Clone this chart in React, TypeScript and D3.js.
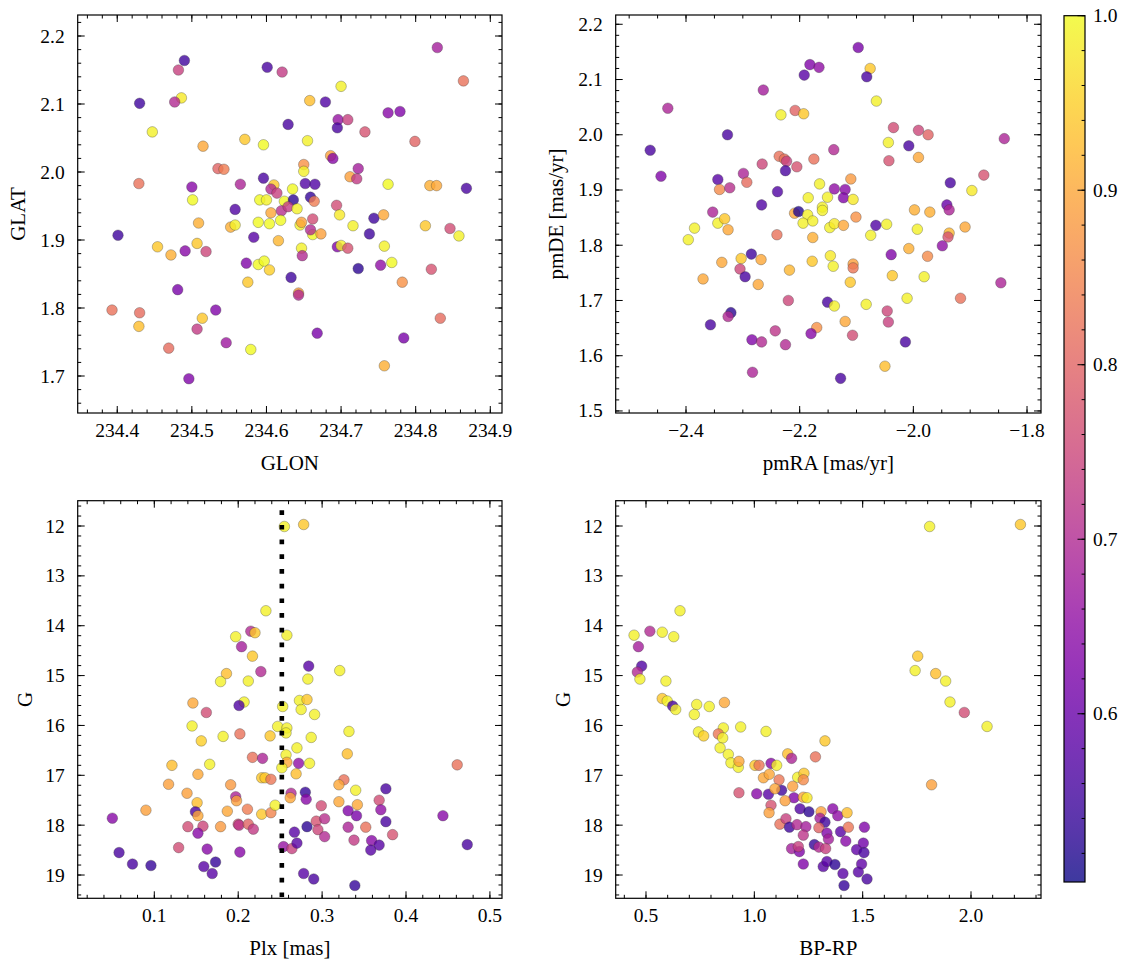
import React from 'react';
import * as d3 from 'd3';

const W = 1133;
const H = 965;
const FONT = 'Liberation Serif, "DejaVu Serif", serif';

// ---------- Panel 1: GLON / GLAT ----------
const glon = [234.829,234.864,234.490,234.482,234.601,234.621,234.700,234.430,234.486,234.477,234.658,234.679,234.763,234.779,234.696,234.709,234.695,234.629,234.732,234.799,234.447,234.515,234.571,234.596,234.655,234.686,234.689,234.535,234.543,234.650,234.650,234.723,234.712,234.721,234.429,234.500,234.565,234.596,234.610,234.606,234.614,234.635,234.652,234.665,234.763,234.819,234.828,234.868,234.501,234.591,234.600,234.624,234.636,234.659,234.664,234.694,234.558,234.606,234.620,234.629,234.641,234.662,234.698,234.744,234.757,234.509,234.552,234.558,234.589,234.604,234.619,234.645,234.647,234.662,234.659,234.673,234.716,234.813,234.846,234.858,234.401,234.583,234.738,234.454,234.472,234.491,234.507,234.519,234.616,234.647,234.648,234.695,234.700,234.709,234.758,234.573,234.589,234.597,234.604,234.753,234.768,234.723,234.821,234.633,234.575,234.782,234.481,234.643,234.643,234.393,234.430,234.532,234.514,234.429,234.507,234.833,234.469,234.546,234.579,234.668,234.784,234.758,234.496];
const glat = [2.183,2.134,2.164,2.150,2.154,2.147,2.126,2.101,2.109,2.103,2.105,2.103,2.087,2.089,2.077,2.077,2.065,2.070,2.059,2.045,2.059,2.038,2.048,2.040,2.046,2.024,2.020,2.005,2.004,2.011,2.001,2.005,1.993,1.990,1.983,1.978,1.982,1.991,1.981,1.975,1.969,1.975,1.983,1.982,1.982,1.980,1.980,1.976,1.959,1.959,1.959,1.957,1.959,1.963,1.957,1.951,1.945,1.940,1.943,1.949,1.946,1.931,1.937,1.932,1.937,1.925,1.919,1.922,1.926,1.924,1.929,1.922,1.926,1.908,1.915,1.909,1.921,1.921,1.917,1.906,1.907,1.904,1.909,1.890,1.878,1.884,1.895,1.883,1.899,1.888,1.877,1.890,1.892,1.888,1.891,1.866,1.864,1.869,1.856,1.863,1.867,1.858,1.857,1.845,1.838,1.838,1.827,1.822,1.819,1.797,1.793,1.797,1.785,1.773,1.769,1.785,1.741,1.749,1.739,1.763,1.756,1.715,1.696];
const glProb = [.68,.82,.55,.74,.56,.73,.99,.55,.98,.70,.93,.57,.64,.63,.66,.74,.56,.56,.77,.80,.99,.90,.94,1.0,.99,.89,.64,.80,.84,.87,.99,.68,.89,.73,.82,.64,.69,.56,.94,.70,.74,1.0,.57,.57,1.0,.91,.90,.56,1.0,1.0,.99,1.0,.53,.54,.84,.76,.57,.90,.71,.73,.99,.76,.98,.55,.90,.91,.91,.99,1.0,1.0,1.0,.99,.89,1.0,.70,.89,.99,.94,.76,.99,.55,.58,.55,.94,.91,.64,.94,.75,.92,.99,.70,.63,.99,.77,.99,.63,1.0,1.0,.95,.65,1.0,.53,.77,.55,.94,.87,.62,.89,.70,.82,.81,.63,.94,.93,.73,.81,.81,.67,1.0,.62,.62,.91,.63];

// ---------- Panel 2: pmRA / pmDE ----------
const pmra = [-2.097,-2.076,-2.082,-2.182,-2.166,-2.192,-2.065,-2.264,-2.432,-2.233,-2.208,-2.193,-2.327,-2.463,-2.035,-1.991,-1.974,-2.044,-2.008,-1.840,-1.991,-2.043,-2.140,-2.236,-2.227,-2.223,-2.225,-2.205,-2.175,-2.266,-2.444,-2.299,-2.293,-2.344,-2.341,-2.323,-2.239,-2.165,-2.110,-2.139,-2.120,-2.123,-2.106,-2.185,-2.151,-1.935,-1.876,-1.897,-2.267,-2.353,-2.160,-1.998,-1.971,-1.941,-1.937,-2.209,-2.202,-2.186,-2.160,-2.344,-2.332,-2.326,-2.385,-2.396,-2.194,-2.177,-2.147,-2.139,-2.123,-2.101,-2.066,-2.047,-2.075,-2.240,-2.177,-1.993,-1.909,-1.937,-1.939,-1.949,-2.008,-1.975,-2.039,-2.285,-2.303,-2.268,-2.337,-2.305,-2.296,-2.370,-2.273,-2.218,-2.178,-2.146,-2.141,-2.106,-2.106,-2.111,-2.037,-1.981,-1.846,-2.011,-1.917,-2.220,-2.151,-2.139,-2.083,-2.046,-2.044,-2.120,-2.321,-2.326,-2.357,-2.170,-2.180,-2.243,-2.284,-2.267,-2.225,-2.107,-2.014,-2.050,-2.283,-2.128];
const pmde = [2.158,2.120,2.105,2.127,2.122,2.108,2.061,2.081,2.048,2.036,2.044,2.038,2.000,1.972,2.013,2.008,2.000,1.986,1.980,1.993,1.959,1.953,1.973,1.961,1.956,1.952,1.935,1.942,1.956,1.947,1.925,1.930,1.914,1.919,1.901,1.904,1.897,1.911,1.920,1.902,1.901,1.886,1.883,1.886,1.887,1.913,1.927,1.899,1.873,1.860,1.869,1.864,1.860,1.873,1.864,1.858,1.861,1.855,1.863,1.840,1.848,1.828,1.831,1.810,1.840,1.844,1.832,1.839,1.836,1.851,1.836,1.838,1.818,1.819,1.814,1.829,1.833,1.822,1.815,1.799,1.794,1.780,1.783,1.784,1.776,1.774,1.769,1.757,1.743,1.739,1.729,1.755,1.771,1.781,1.762,1.766,1.759,1.733,1.745,1.743,1.732,1.704,1.704,1.700,1.697,1.690,1.693,1.681,1.661,1.662,1.678,1.671,1.656,1.651,1.640,1.645,1.629,1.625,1.620,1.637,1.625,1.581,1.570,1.559];
const pmProb = [.62,.94,.56,.63,.65,.58,.99,.68,.69,.99,.80,.94,.56,.56,.76,.75,.80,.99,.56,.69,.90,.77,.70,.82,.82,.74,.56,.77,.82,.75,.63,.69,.81,.58,.86,.71,.57,.99,.88,.65,.64,.63,.98,.99,.99,.56,.77,.98,.57,.69,.99,.91,.91,.60,.69,.90,.52,.99,.99,.99,.94,.90,.99,.99,.99,.99,.99,.98,.90,.87,.57,.99,.99,.82,.91,.99,.90,.92,.77,.65,.91,.86,.63,.55,.94,.90,.90,.75,.56,.90,.90,.92,.94,.98,.99,.89,.83,.94,.94,.99,.69,.99,.82,.75,.56,.99,.99,.75,.74,.90,.53,.70,.56,.87,.64,.72,.63,.70,.70,.76,.56,.93,.69,.56];

// ---------- Panel 3: Plx / G ----------
const plx = [.255,.278,.233,.197,.215,.220,.258,.204,.217,.284,.321,.227,.186,.179,.212,.283,.146,.207,.201,.162,.253,.273,.282,.275,.291,.145,.247,.258,.257,.156,.182,.202,.238,.287,.332,.270,.257,.330,.217,.229,.121,.166,.258,.252,.272,.285,.461,.152,.269,.228,.232,.239,.117,.191,.326,.320,.340,.376,.139,.197,.198,.263,.262,.280,.281,.368,.151,.090,.149,.152,.187,.211,.228,.239,.244,.299,.320,.342,.331,.341,.370,.376,.444,.050,.140,.158,.152,.179,.200,.201,.212,.218,.293,.303,.295,.282,.267,.303,.331,.352,.338,.384,.359,.368,.358,.473,.129,.163,.202,.254,.264,.270,.058,.074,.096,.159,.173,.169,.278,.290,.339];
const gmag3 = [12.01,11.97,13.70,14.22,14.11,14.14,14.19,14.42,14.61,14.81,14.90,14.92,14.96,15.12,15.11,15.07,15.55,15.53,15.60,15.74,15.62,15.50,15.48,15.68,15.78,16.01,16.02,16.05,16.15,16.31,16.22,16.17,16.21,16.24,16.12,16.45,16.59,16.57,16.64,16.66,16.80,16.78,16.74,16.85,16.76,16.76,16.79,16.98,16.97,17.05,17.05,17.08,17.18,17.19,17.09,17.19,17.30,17.27,17.36,17.43,17.51,17.36,17.45,17.34,17.48,17.50,17.55,17.70,17.73,17.81,17.72,17.68,17.78,17.75,17.60,17.61,17.53,17.59,17.71,17.81,17.69,17.93,17.81,17.86,18.03,18.02,18.16,18.03,17.98,18.00,17.98,18.08,17.92,17.87,18.09,18.03,18.14,18.23,18.04,18.04,18.30,18.19,18.31,18.40,18.50,18.39,18.45,18.48,18.54,18.43,18.47,18.36,18.55,18.78,18.81,18.83,18.74,18.97,18.97,19.08,19.21];
const prob3 = [.99,.94,.99,.99,.70,.94,.99,.68,.94,.58,.99,.70,.93,.99,.99,.99,.90,.99,.57,.76,.99,.99,.94,.99,.99,.99,.99,.99,.99,.95,.99,.82,.94,.99,.99,.99,.99,.93,.82,.69,.93,.99,.90,.99,.65,.99,.82,.90,.93,.94,.94,.83,.89,.88,.82,.90,.99,.56,.89,.69,.89,.70,.90,.54,.64,.76,.93,.89,.56,.90,.90,.84,.94,.85,.99,.76,.90,.90,.63,.62,.65,.56,.64,.64,.76,.75,.64,.88,.76,.72,.80,.73,.77,.71,.75,.53,.58,.70,.69,.82,.73,.77,.64,.58,.58,.56,.76,.64,.64,.66,.74,.58,.56,.56,.54,.58,.54,.58,.58,.56,.54];
const PLX_CUT = 0.252;

// ---------- Panel 4: BP-RP / G ----------
const bprp = [1.809,2.228,.657,.445,.518,.575,.628,.465,1.754,.480,.460,1.742,1.837,.472,.592,1.883,1.903,1.969,2.074,1.818,.575,.598,.623,.637,.734,.792,.862,.723,.857,.937,1.054,1.326,.742,.766,.834,.854,.842,.880,.892,.926,.929,1.003,1.022,1.077,1.103,1.154,1.172,1.282,1.042,1.069,1.114,1.200,1.229,1.226,.929,1.011,1.065,1.126,1.095,1.177,1.183,1.142,1.226,1.243,1.077,1.068,1.211,1.252,1.308,1.362,1.385,1.428,1.118,1.146,1.162,1.197,1.238,1.303,1.326,1.298,1.226,1.335,1.342,1.398,1.434,1.508,1.422,1.172,1.208,1.203,1.277,1.298,1.329,1.472,1.503,1.506,1.226,1.318,1.335,1.372,1.409,1.495,1.480,1.520,1.414];
const gmag4 = [12.01,11.97,13.70,14.19,14.11,14.13,14.22,14.42,14.61,14.81,14.93,14.90,14.96,15.07,15.11,15.11,15.53,15.74,16.02,17.19,15.46,15.51,15.61,15.68,15.58,15.62,15.54,15.78,16.05,16.03,16.12,16.31,16.13,16.21,16.17,16.25,16.45,16.58,16.75,16.84,16.72,16.80,16.80,16.76,16.80,16.57,16.66,16.63,17.05,16.98,17.09,17.04,16.96,17.09,17.35,17.37,17.38,17.30,17.27,17.22,17.45,17.51,17.44,17.45,17.60,17.75,17.67,17.73,17.73,17.67,17.81,17.75,17.98,17.87,18.04,17.99,18.03,17.86,17.94,18.05,18.20,18.16,18.28,18.13,18.04,18.04,18.32,18.47,18.53,18.43,18.39,18.44,18.47,18.49,18.36,18.55,18.78,18.83,18.73,18.79,18.97,18.78,18.94,19.08,19.21];
const prob4 = [.99,.94,.99,.99,.70,.99,.99,.68,.94,.57,.70,.99,.93,.99,.99,.99,.99,.76,.99,.89,.94,.99,.56,.99,.99,.99,.90,.99,.99,.99,.99,.94,.99,.95,.83,.99,.99,.99,.99,.99,.90,.94,.83,.64,.99,.93,.69,.82,.90,.90,.83,.99,.94,.86,.77,.64,.58,.55,.90,.89,.63,.89,.90,.98,.77,.89,.57,.53,.89,.64,.65,.93,.82,.74,.55,.70,.68,.68,.55,.80,.72,.63,.68,.58,.83,.63,.64,.68,.63,.74,.54,.70,.74,.59,.61,.56,.63,.58,.58,.53,.58,.59,.58,.56,.54];

// ---------- tick labels ----------
const glonTicks = [234.4, 234.5, 234.6, 234.7, 234.8, 234.9];
const glatTicks = [1.7, 1.8, 1.9, 2.0, 2.1, 2.2];
const pmraTicks = [-2.4, -2.2, -2.0, -1.8];
const pmdeTicks = [1.5, 1.6, 1.7, 1.8, 1.9, 2.0, 2.1, 2.2];
const plxTicks = [0.1, 0.2, 0.3, 0.4, 0.5];
const gTicks = [12, 13, 14, 15, 16, 17, 18, 19];
const bprpTicks = [0.5, 1.0, 1.5, 2.0];
const cbTicks = [0.6, 0.7, 0.8, 0.9, 1.0];

const VMIN = 0.5036;
const VMAX = 1.0;
const ALPHA = 0.8;

const cnorm = d3.scaleLinear().domain([VMIN, VMAX]).range([0, 1]).clamp(true);
const colorOf = (p: number) => d3.interpolatePlasma(cnorm(p));

const fmt1 = (v: number) => (v < 0 ? '\u2212' : '') + Math.abs(v).toFixed(1);
const fmt0 = (v: number) => String(v);

function minorTicks(domain: number[], step: number) {
  const lo = Math.min(domain[0], domain[1]);
  const hi = Math.max(domain[0], domain[1]);
  const out: number[] = [];
  const start = Math.ceil(lo / step - 1e-6);
  for (let i = start; i * step <= hi + 1e-9; i++) out.push(+(i * step).toFixed(6));
  return out;
}

type Box = { x0: number; x1: number; y0: number; y1: number };

function Panel(props: {
  id: string;
  box: Box;
  xDomain: number[];
  yDomain: number[];
  xs: number[];
  ys: number[];
  ps: number[];
  xMajor: number[];
  yMajor: number[];
  xMinor: number;
  yMinor: number;
  xFmt: (v: number) => string;
  yFmt: (v: number) => string;
  xLabel: string;
  yLabel: string;
  yLabelOff: number;
  vline?: number;
}) {
  const { id, box, xs, ys, ps } = props;
  const x = d3.scaleLinear().domain(props.xDomain).range([box.x0, box.x1]);
  const y = d3.scaleLinear().domain(props.yDomain).range([box.y1, box.y0]);
  const MAJ = 7;
  const MIN = 3.5;
  const xmin = minorTicks(props.xDomain, props.xMinor);
  const ymin = minorTicks(props.yDomain, props.yMinor);
  const cx = (box.x0 + box.x1) / 2;
  const cy = (box.y0 + box.y1) / 2;
  return (
    <g>
      <defs>
        <clipPath id={`clip-${id}`}>
          <rect x={box.x0} y={box.y0} width={box.x1 - box.x0} height={box.y1 - box.y0} />
        </clipPath>
      </defs>
      <g clipPath={`url(#clip-${id})`}>
        {xs.map((v, i) => (
          <circle
            key={i}
            cx={x(v)}
            cy={y(ys[i])}
            r={5.3}
            fill={colorOf(ps[i])}
            fillOpacity={ALPHA}
            stroke="#3a3a3a"
            strokeOpacity={0.55}
            strokeWidth={0.6}
          />
        ))}
        {props.vline !== undefined && (
          <line
            x1={x(props.vline)}
            x2={x(props.vline)}
            y1={box.y0 + 9.5}
            y2={box.y1}
            stroke="#000"
            strokeWidth={4.6}
            strokeDasharray="4.7 10"
          />
        )}
      </g>
      <g stroke="#000" strokeWidth={1}>
        {xmin.map((t, i) => (
          <g key={'xm' + i}>
            <line x1={x(t)} x2={x(t)} y1={box.y1} y2={box.y1 - MIN} />
            <line x1={x(t)} x2={x(t)} y1={box.y0} y2={box.y0 + MIN} />
          </g>
        ))}
        {ymin.map((t, i) => (
          <g key={'ym' + i}>
            <line x1={box.x0} x2={box.x0 + MIN} y1={y(t)} y2={y(t)} />
            <line x1={box.x1} x2={box.x1 - MIN} y1={y(t)} y2={y(t)} />
          </g>
        ))}
        {props.xMajor.map((t, i) => (
          <g key={'xM' + i}>
            <line x1={x(t)} x2={x(t)} y1={box.y1} y2={box.y1 - MAJ} />
            <line x1={x(t)} x2={x(t)} y1={box.y0} y2={box.y0 + MAJ} />
          </g>
        ))}
        {props.yMajor.map((t, i) => (
          <g key={'yM' + i}>
            <line x1={box.x0} x2={box.x0 + MAJ} y1={y(t)} y2={y(t)} />
            <line x1={box.x1} x2={box.x1 - MAJ} y1={y(t)} y2={y(t)} />
          </g>
        ))}
      </g>
      <rect
        x={box.x0}
        y={box.y0}
        width={box.x1 - box.x0}
        height={box.y1 - box.y0}
        fill="none"
        stroke="#000"
        strokeWidth={1.2}
      />
      <g fontFamily={FONT} fontSize={19.5} fill="#000">
        {props.xMajor.map((t, i) => (
          <text key={'xl' + i} x={x(t)} y={box.y1 + 24} textAnchor="middle">
            {props.xFmt(t)}
          </text>
        ))}
        {props.yMajor.map((t, i) => (
          <text key={'yl' + i} x={box.x0 - 13} y={y(t) + 6.5} textAnchor="end">
            {props.yFmt(t)}
          </text>
        ))}
      </g>
      <g fontFamily={FONT} fontSize={21} fill="#000">
        <text x={cx} y={box.y1 + 57} textAnchor="middle">
          {props.xLabel}
        </text>
        <text
          transform={`translate(${box.x0 - props.yLabelOff},${cy}) rotate(-90)`}
          textAnchor="middle"
        >
          {props.yLabel}
        </text>
      </g>
    </g>
  );
}

function Colorbar() {
  const x0 = 1064;
  const x1 = 1085;
  const y0 = 15.7;
  const y1 = 882;
  const s = d3.scaleLinear().domain([VMIN, VMAX]).range([y1, y0]);
  const stops = d3.range(0, 1.0001, 0.05);
  const minors = minorTicks([VMIN, VMAX], 0.02);
  return (
    <g>
      <defs>
        <linearGradient id="cbgrad" x1="0" y1="1" x2="0" y2="0">
          {stops.map((t, i) => (
            <stop key={i} offset={t} stopColor={d3.interpolatePlasma(t)} stopOpacity={ALPHA} />
          ))}
        </linearGradient>
      </defs>
      <rect x={x0} y={y0} width={x1 - x0} height={y1 - y0} fill="url(#cbgrad)" />
      <g stroke="#000" strokeWidth={1}>
        {minors.map((t, i) => (
          <line key={'m' + i} x1={x1} x2={x1 - 3.4} y1={s(t)} y2={s(t)} />
        ))}
        {cbTicks.map((t, i) => (
          <line key={'M' + i} x1={x1} x2={x1 - 7.5} y1={s(t)} y2={s(t)} />
        ))}
      </g>
      <rect x={x0} y={y0} width={x1 - x0} height={y1 - y0} fill="none" stroke="#000" strokeWidth={1.2} />
      <g fontFamily={FONT} fontSize={19.5} fill="#000">
        {cbTicks.map((t, i) => (
          <text key={i} x={x1 + 8} y={s(t) + 6.5} textAnchor="start">
            {t.toFixed(1)}
          </text>
        ))}
      </g>
    </g>
  );
}

export default function App() {
  const top: Box = { x0: 77.7, x1: 502, y0: 15, y1: 413 };
  const topR: Box = { x0: 615.7, x1: 1041, y0: 15, y1: 413 };
  const bot: Box = { x0: 77.7, x1: 502, y0: 500.7, y1: 898.3 };
  const botR: Box = { x0: 615.7, x1: 1041, y0: 500.7, y1: 898.3 };
  return (
    <svg
      width={W}
      height={H}
      viewBox={`0 0 ${W} ${H}`}
      style={{ position: 'absolute', left: 0, top: 0, background: '#fff' }}
    >
      <rect width={W} height={H} fill="#fff" />
      <Panel
        id="p1"
        box={top}
        xDomain={[234.347, 234.9157]}
        yDomain={[1.6456, 2.2309]}
        xs={glon}
        ys={glat}
        ps={glProb}
        xMajor={glonTicks}
        yMajor={glatTicks}
        xMinor={0.02}
        yMinor={0.02}
        xFmt={fmt1}
        yFmt={fmt1}
        xLabel="GLON"
        yLabel="GLAT"
        yLabelOff={53}
      />
      <Panel
        id="p2"
        box={topR}
        xDomain={[-2.5237, -1.7754]}
        yDomain={[1.4963, 2.2168]}
        xs={pmra}
        ys={pmde}
        ps={pmProb}
        xMajor={pmraTicks}
        yMajor={pmdeTicks}
        xMinor={0.05}
        yMinor={0.02}
        xFmt={fmt1}
        yFmt={fmt1}
        xLabel="pmRA [mas/yr]"
        yLabel="pmDE [mas/yr]"
        yLabelOff={53}
      />
      <Panel
        id="p3"
        box={bot}
        xDomain={[0.0087, 0.5144]}
        yDomain={[19.467, 11.4925]}
        xs={plx}
        ys={gmag3}
        ps={prob3}
        xMajor={plxTicks}
        yMajor={gTicks}
        xMinor={0.02}
        yMinor={0.2}
        xFmt={fmt1}
        yFmt={fmt0}
        xLabel="Plx [mas]"
        yLabel="G"
        yLabelOff={46}
        vline={PLX_CUT}
      />
      <Panel
        id="p4"
        box={botR}
        xDomain={[0.3602, 2.323]}
        yDomain={[19.467, 11.4925]}
        xs={bprp}
        ys={gmag4}
        ps={prob4}
        xMajor={bprpTicks}
        yMajor={gTicks}
        xMinor={0.1}
        yMinor={0.2}
        xFmt={fmt1}
        yFmt={fmt0}
        xLabel="BP-RP"
        yLabel="G"
        yLabelOff={46}
      />
      <Colorbar />
    </svg>
  );
}
